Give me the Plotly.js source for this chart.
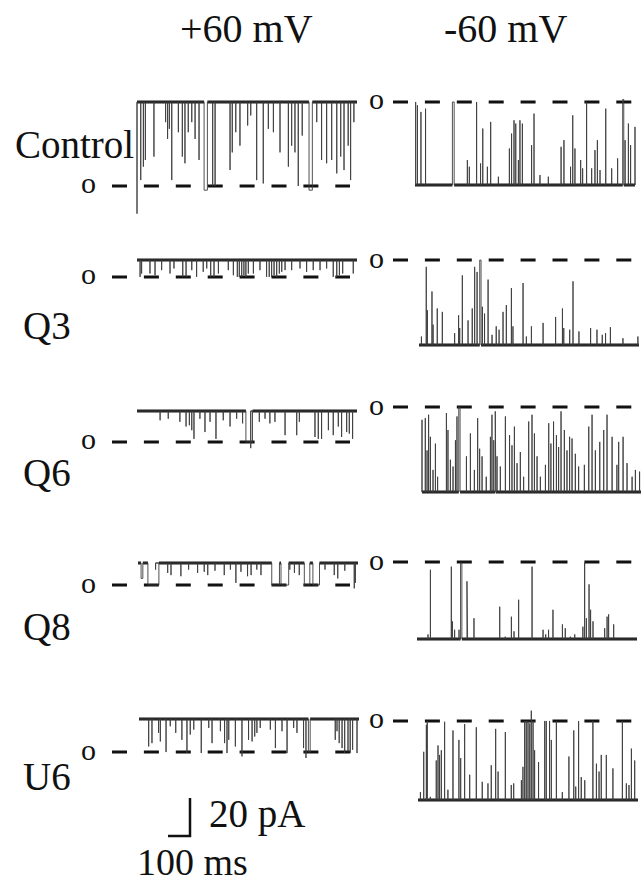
<!DOCTYPE html>
<html><head><meta charset="utf-8">
<script src="https://cdn.plot.ly/plotly-3.0.1.min.js"></script>
<style>html,body{margin:0;padding:0;background:#fff}#chart{width:641px;height:885px}</style>
</head><body><div id="chart"></div>
<script>
// ---------------- DATA ----------------
const rowLabels = ['Control', 'Q3', 'Q6', 'Q8', 'U6'];
const voltageLabels = ['+60 mV', '-60 mV'];
const openPos = [-44.2, -8.9, -16.3, -11.6, -17.4];   // open level (pA) at +60 mV
const openNeg = [43.7, 44.7, 44.7, 40.5, 41.6];       // open level (pA) at -60 mV
const recordMs = 1000;
const scaleMs = 100, scalePa = 20;

// event times (ms) and amplitudes (fraction of open level)
const ctrlPosT = [0,17,29,38,77,130,139,147,158,188,206,218,233,249,264,282,305,344,355,423,433,449,468,503,517,544,574,597,620,650,688,703,718,733,751,782,817,839,862,885,908,926,941,960,971,986];
const ctrlPosA = [1.33,0.93,0.77,0.69,0.65,0.24,0.44,0.32,0.93,0.36,0.65,0.73,0.36,0.24,0.44,0.69,1.05,1.0,1.0,0.81,0.6,0.36,0.52,0.28,0.16,0.93,0.97,0.32,0.36,0.6,0.77,0.52,0.6,1.0,0.4,1.05,0.24,0.69,0.73,0.69,0.85,0.65,0.81,0.52,0.93,0.24];
const ctrlPosLongT = [305, 782], ctrlPosLongD = [15, 15];

const ctrlNegT = [3,11,27,48,170,238,247,280,298,308,329,344,379,429,439,450,458,470,477,488,530,541,568,606,664,677,707,717,727,753,762,780,803,818,829,841,867,894,921,944,955,970,980,1000];
const ctrlNegA = [1.0,0.96,0.88,0.92,1.0,0.3,0.22,1.0,0.26,0.68,0.22,0.76,0.1,0.44,0.62,0.78,0.74,0.3,0.78,0.74,0.48,0.86,0.12,0.1,0.46,0.54,0.22,0.84,0.44,0.3,0.2,1.0,0.2,0.42,0.54,0.18,0.92,0.2,0.32,1.03,0.54,0.74,0.48,0.7];
const ctrlNegLongT = [170, 944], ctrlNegLongD = [8, 5];

const q3PosT = [14,21,59,82,112,150,168,208,223,249,271,301,317,335,350,370,415,438,456,465,476,486,495,506,529,559,589,601,612,623,635,647,658,673,703,741,771,801,832,862,892,908,920,935,983];
const q3PosA = [1.0,0.8,0.8,0.9,0.6,0.8,0.5,1.0,1.0,0.6,1.0,0.7,0.5,1.0,1.0,0.8,0.6,0.9,1.0,1.0,1.0,0.9,1.0,0.8,0.8,0.6,1.0,1.0,1.0,0.9,1.0,0.8,0.7,0.6,0.6,0.5,0.7,0.6,0.6,0.5,1.0,1.0,0.9,0.8,0.8];
const q3PosLongT = [], q3PosLongD = [];

const q3NegT = [11,33,38,59,64,83,106,162,180,185,197,223,242,253,264,276,288,298,314,332,351,364,382,397,420,427,473,488,511,564,621,652,658,685,700,727,780,809,833,848,870,927,995];
const q3NegA = [0.1,0.92,0.41,0.63,0.24,0.43,0.39,0.14,0.35,0.2,0.82,0.29,0.43,0.92,0.86,1.0,0.45,0.37,0.77,0.12,0.22,0.18,0.39,0.47,0.67,0.22,0.73,0.1,0.22,0.26,0.33,0.43,0.2,0.18,0.75,0.16,0.2,0.18,0.12,0.14,0.21,0.08,0.1];
const q3NegLongT = [276], q3NegLongD = [6];

const q6PosT = [105,142,195,223,238,249,259,286,309,332,359,392,423,453,480,495,517,556,582,604,627,673,726,738,809,824,839,870,892,915,930,953,965,980];
const q6PosA = [0.3,0.25,0.35,0.5,0.46,0.62,0.9,0.25,0.68,0.35,0.9,0.3,0.5,0.25,0.4,1.0,1.2,0.35,0.25,0.4,0.35,0.78,0.78,0.35,0.84,0.9,0.9,0.62,0.78,0.5,0.84,0.68,0.73,0.9];
const q6PosLongT = [495], q6PosLongD = [30];

const q6NegT = [0,15,23,30,38,50,61,71,111,118,129,141,152,159,167,174,202,220,238,253,262,273,292,311,318,326,333,341,356,379,398,409,420,432,447,462,485,500,511,523,538,561,576,586,598,611,621,632,647,659,671,682,697,712,738,758,773,788,808,826,841,864,886,894,914,932,955,970,989];
const q6NegA = [0.85,0.87,0.49,0.91,0.65,0.26,0.57,0.18,0.93,0.73,0.38,0.3,0.61,0.89,1.0,0.99,0.42,0.69,0.26,0.87,0.51,0.42,0.18,0.65,0.91,0.61,0.95,0.42,0.3,0.89,0.67,0.55,0.77,0.34,0.47,0.18,0.83,0.91,0.69,0.42,0.18,0.32,0.81,0.57,0.83,0.67,0.53,0.95,0.73,0.49,0.65,0.63,0.45,0.3,0.32,0.77,0.91,0.49,0.59,0.73,0.91,0.65,0.32,0.59,0.65,0.34,0.18,0.26,0.24];
const q6NegLongT = [167, 333], q6NegLongD = [6, 3];

const q8PosT = [14,45,80,135,150,195,230,271,301,317,350,392,420,445,468,498,514,540,559,608,650,690,711,733,756,795,850,892,908,940,983,988];
const q8PosA = [0.7,1.0,0.3,0.45,0.55,0.6,0.3,0.45,0.4,0.55,0.35,0.55,0.3,0.9,0.4,0.6,0.55,0.3,0.55,1.0,1.0,0.3,0.45,0.55,1.0,1.0,0.3,0.55,0.7,0.35,1.15,0.9];
const q8PosLongT = [14, 45, 608, 650, 756, 795], q8PosLongD = [8, 50, 35, 35, 25, 30];

const q8NegT = [50,61,156,161,171,191,198,206,227,230,259,376,401,429,441,462,523,573,585,598,618,661,674,697,717,754,762,770,782,789,800,853,864,871,894];
const q8NegA = [0.06,0.9,0.94,0.23,0.12,0.12,0.99,0.99,0.75,0.16,0.27,0.42,0.03,0.29,0.1,0.51,0.94,0.12,0.06,0.12,0.38,0.19,0.14,0.03,0.06,0.16,0.99,0.27,0.71,0.38,0.23,0.14,0.29,0.32,0.19];
const q8NegLongT = [198], q8NegLongD = [6];

const u6PosT = [44,59,89,97,123,142,167,195,218,233,249,283,317,332,370,389,400,408,438,468,498,514,526,536,551,597,620,650,673,703,718,748,759,770,892,900,910,923,935,950,960,971,991];
const u6PosA = [0.83,0.73,0.42,0.68,1.0,0.22,0.42,0.63,1.03,0.47,0.32,1.03,0.27,0.73,0.37,0.73,1.03,0.63,0.83,1.13,0.63,0.68,0.53,0.42,0.27,0.32,0.88,0.37,1.03,0.27,0.42,0.88,1.18,1.0,0.63,0.37,0.73,0.88,1.03,0.98,1.03,0.93,1.03];
const u6PosLongT = [770], u6PosLongD = [8];

const u6NegT = [11,26,38,42,56,83,91,98,106,121,136,159,186,194,212,235,265,292,318,333,353,364,397,424,435,470,477,485,492,500,508,515,523,530,548,576,583,598,606,629,656,686,708,717,730,742,758,795,811,823,833,856,886,929,947,959,970,985];
const u6NegA = [0.1,0.61,0.95,1.0,0.04,0.5,0.69,0.57,0.63,0.99,0.13,0.88,0.76,0.53,0.96,0.32,0.92,0.23,0.21,0.44,0.9,0.36,0.86,0.19,0.21,0.25,0.42,1.0,1.0,1.0,0.97,1.13,1.0,0.63,0.48,1.0,1.0,1.0,0.76,1.0,0.1,0.55,0.88,0.17,1.0,0.29,0.25,1.0,0.46,0.36,0.57,0.57,0.4,1.0,0.21,0.19,0.65,0.5];
const u6NegLongT = [], u6NegLongD = [];

// ---------------- LAYOUT (pixels) ----------------
const W = 641, H = 885, PX_PER_MS = 0.22, PX_PER_PA = 1.9;
const leftStartPx = [137, 137, 137, 138, 139], rightStartPx = [415, 419, 422, 417, 418];
const closedPxL = [102, 260, 411, 563, 719], closedPxR = [185, 345, 492, 639, 800];
const dashPxL = [112, 350], dashPxR = [393, 632];
const FONT = 'Liberation Serif, Times New Roman, serif';

const posData = [[ctrlPosT,ctrlPosA,ctrlPosLongT,ctrlPosLongD],[q3PosT,q3PosA,q3PosLongT,q3PosLongD],[q6PosT,q6PosA,q6PosLongT,q6PosLongD],[q8PosT,q8PosA,q8PosLongT,q8PosLongD],[u6PosT,u6PosA,u6PosLongT,u6PosLongD]];
const negData = [[ctrlNegT,ctrlNegA,ctrlNegLongT,ctrlNegLongD],[q3NegT,q3NegA,q3NegLongT,q3NegLongD],[q6NegT,q6NegA,q6NegLongT,q6NegLongD],[q8NegT,q8NegA,q8NegLongT,q8NegLongD],[u6NegT,u6NegA,u6NegLongT,u6NegLongD]];

function buildTrace(T, A, LT, LD, openPA, endMs) {
  const idx = T.map((t, i) => i).sort((a, b) => T[a] - T[b]);
  const x = [0], y = [0];
  for (const i of idx) {
    const t = T[i], amp = A[i] * openPA;
    const j = LT.indexOf(t); const d = j >= 0 ? LD[j] : 0;
    x.push(t, t); y.push(0, amp);
    if (d > 0) { x.push(t + d, t + d); y.push(amp, 0); } else { x.push(t); y.push(0); }
  }
  x.push(endMs); y.push(0);
  const bx = [], by = []; let cur = 0;
  const longs = LT.map((t, j) => [t, LD[j]]).sort((a, b) => a[0] - b[0]);
  for (const [t, d] of longs) { bx.push(cur, t, null); by.push(0, 0, null); cur = t + d; }
  bx.push(cur, endMs); by.push(0, 0);
  return { x, y, bx, by };
}

const traces = [];
const layout = {
  width: W, height: H, margin: { l: 0, r: 0, t: 0, b: 0 },
  paper_bgcolor: '#fff', plot_bgcolor: 'rgba(0,0,0,0)', showlegend: false,
  annotations: []
};

const panels = [];
for (let r = 0; r < 5; r++) {
  panels.push({ d: posData[r], open: openPos[r], startPx: leftStartPx[r], closedPx: closedPxL[r], dash: dashPxL, oX: 88 });
  panels.push({ d: negData[r], open: openNeg[r], startPx: rightStartPx[r], closedPx: closedPxR[r], dash: dashPxR, oX: 376 });
}

panels.forEach((p, k) => {
  const s = k === 0 ? '' : String(k + 1);
  const xa = { domain: [0, 1], range: [-p.startPx / PX_PER_MS, (W - p.startPx) / PX_PER_MS], visible: false, fixedrange: true, anchor: 'y' + s };
  const ya = { domain: [0, 1], range: [(p.closedPx - H) / PX_PER_PA, p.closedPx / PX_PER_PA], visible: false, fixedrange: true, anchor: 'x' + s };
  if (k > 0) { xa.overlaying = 'x'; ya.overlaying = 'y'; }
  layout['xaxis' + s] = xa; layout['yaxis' + s] = ya;
  const tr = buildTrace(p.d[0], p.d[1], p.d[2], p.d[3], p.open, recordMs);
  // open-level dashed line
  traces.push({ type: 'scatter', mode: 'lines', xaxis: 'x' + s, yaxis: 'y' + s,
    x: [(p.dash[0] - p.startPx) / PX_PER_MS, (p.dash[1] - p.startPx) / PX_PER_MS], y: [p.open, p.open],
    line: { color: '#111', width: 3, dash: '15px,16.9px' }, hoverinfo: 'skip' });
  // closed baseline (noisy band)
  traces.push({ type: 'scatter', mode: 'lines', xaxis: 'x' + s, yaxis: 'y' + s,
    x: tr.bx, y: tr.by, connectgaps: false, line: { color: '#1c1c1c', width: 3 }, hoverinfo: 'skip' });
  // channel events
  traces.push({ type: 'scatter', mode: 'lines', xaxis: 'x' + s, yaxis: 'y' + s,
    x: tr.x, y: tr.y, line: { color: '#3c3c3c', width: 0.9 }, hoverinfo: 'skip' });
  const openPx = p.closedPx - p.open * PX_PER_PA;
  layout.annotations.push({ xref: 'paper', yref: 'paper', x: p.oX / W, y: 1 - openPx / H, text: 'o',
    showarrow: false, xanchor: 'center', yanchor: 'middle', yshift: 3, font: { family: FONT, size: 30, color: '#111' } });
});

// scale bar axis
layout.xaxis11 = { domain: [0, 1], range: [-168 / PX_PER_MS, (W - 168) / PX_PER_MS], visible: false, overlaying: 'x', anchor: 'y11' };
layout.yaxis11 = { domain: [0, 1], range: [(836 - H) / PX_PER_PA, 836 / PX_PER_PA], visible: false, overlaying: 'y', anchor: 'x11' };
traces.push({ type: 'scatter', mode: 'lines', xaxis: 'x11', yaxis: 'y11',
  x: [0, scaleMs, scaleMs], y: [0, 0, scalePa], line: { color: '#111', width: 2.5 }, hoverinfo: 'skip' });

function label(text, xPx, yPx, anchor, size) {
  layout.annotations.push({ xref: 'paper', yref: 'paper', x: xPx / W, y: 1 - yPx / H, text: text,
    showarrow: false, xanchor: anchor, yanchor: 'middle', font: { family: FONT, size: size, color: '#111' } });
}
label(voltageLabels[0], 246, 29, 'center', 40);
label(voltageLabels[1], 505, 29, 'center', 40);
const rowLabelX = [13, 21, 21, 21, 21];
const rowLabelY = [145, 325, 472, 626, 776];
rowLabels.forEach((t, i) => label(t, rowLabelX[i], rowLabelY[i], 'left', 39));
label(scalePa + ' pA', 207, 814, 'left', 39);
label(scaleMs + ' ms', 135, 862, 'left', 38);

Plotly.newPlot('chart', traces, layout, { staticPlot: true, displayModeBar: false });
</script>
</body></html>
